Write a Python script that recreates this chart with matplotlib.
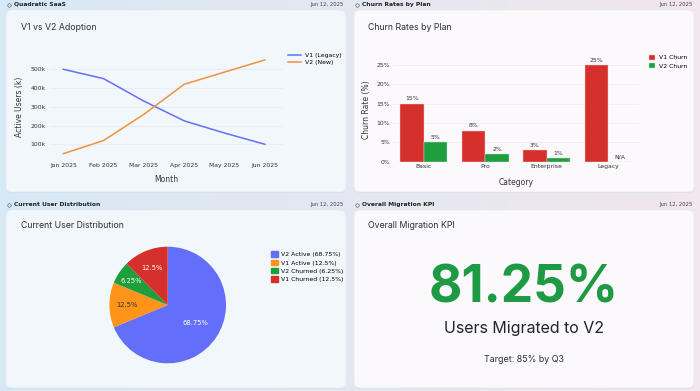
import numpy as np
import matplotlib
matplotlib.use("Agg")
import matplotlib.pyplot as plt
from matplotlib.patches import FancyBboxPatch, Patch

# data
months = ["Jan 2025", "Feb 2025", "Mar 2025", "Apr 2025", "May 2025", "Jun 2025"]
v1_users = [500, 450, 330, 225, 160, 100]
v2_users = [50, 120, 260, 420, 485, 550]

plans = ["Basic", "Pro", "Enterprise", "Legacy"]
v1_churn = [15, 8, 3, 25]
v2_churn = [5, 2, 1, None]

dist_labels = ["V2 Active", "V1 Active", "V2 Churned", "V1 Churned"]
dist_values = [68.75, 12.5, 6.25, 12.5]

kpi_value = "81.25%"
kpi_label = "Users Migrated to V2"
kpi_target = "Target: 85% by Q3"
report_date = "Jun 12, 2025"

W, H = 700, 391
fig = plt.figure(figsize=(W / 100, H / 100), dpi=100)

# background axes in pixel coords (y down)
bg = fig.add_axes([0, 0, 1, 1])
bg.set_xlim(0, W)
bg.set_ylim(H, 0)
bg.axis("off")
left_c = np.array([0.845, 0.912, 0.965])
right_c = np.array([0.945, 0.905, 0.925])
t = np.linspace(0, 1, 200)[None, :, None]
grad = left_c * (1 - t) + right_c * t
grad = np.repeat(grad, 2, axis=0)
bg.imshow(grad, extent=[0, W, H, 0], aspect="auto", zorder=0)


def px_axes(x0, y0, x1, y1):
    return fig.add_axes([x0 / W, 1 - y1 / H, (x1 - x0) / W, (y1 - y0) / H])


cards = [(6, 10, 346, 192, "#f2f7fc"), (354, 10, 694, 192, "#fbf9fb"),
         (6, 210, 346, 388, "#f2f7fc"), (354, 210, 694, 388, "#fbf9fb")]
for x0, y0, x1, y1, col in cards:
    bg.add_patch(FancyBboxPatch((x0, y0 + 1), x1 - x0, y1 - y0, boxstyle="round,pad=0,rounding_size=6",
                                fc="#000000", ec="none", alpha=0.04, zorder=1))
    bg.add_patch(FancyBboxPatch((x0, y0), x1 - x0, y1 - y0, boxstyle="round,pad=0,rounding_size=6",
                                fc=col, ec="#e6eaf0", lw=0.5, zorder=2))

headers = [(14, 4.5, "Quadratic SaaS", 344), (362, 4.5, "Churn Rates by Plan", 693),
           (14, 204.5, "Current User Distribution", 344), (362, 204.5, "Overall Migration KPI", 693)]
for x, y, txt, xr in headers:
    bg.plot(x - 5, y, marker="D", ms=2.2, mfc="none", mec="#777777", mew=0.5, zorder=3)
    bg.text(x, y, txt, fontsize=4.3, fontweight="bold", color="#222222", va="center", ha="left",
            family="DejaVu Sans", zorder=3)
    bg.text(xr, y, report_date, fontsize=3.8, color="#444444", va="center", ha="right", zorder=3)

title_kw = dict(fontsize=6.3, color="#2a2f3a", va="center", ha="left", family="Inter", zorder=3)
bg.text(21, 28, "V1 vs V2 Adoption", **title_kw)
bg.text(368, 28, "Churn Rates by Plan", **title_kw)
bg.text(21, 225.5, "Current User Distribution", **title_kw)
bg.text(368, 225.5, "Overall Migration KPI", **title_kw)

tick_col = "#333333"
grid_col = "#e6ebf1"

# line chart
ax1 = px_axes(50, 55.2, 283, 159.3)
ax1.patch.set_alpha(0)
x = np.arange(len(months))
ax1.plot(x, v1_users, color="#636EFA", lw=1.1, label="V1 (Legacy)")
ax1.plot(x, v2_users, color="#F0923E", lw=1.1, label="V2 (New)")
ax1.set_xlim(-0.33, 5.45)
ax1.set_ylim(20, 575)
ax1.set_xticks(x)
ax1.set_xticklabels(months)
ax1.set_yticks([100, 200, 300, 400, 500])
ax1.set_yticklabels([f"{v}k" for v in [100, 200, 300, 400, 500]])
ax1.grid(axis="y", color=grid_col, lw=0.5)
ax1.tick_params(length=0, labelsize=4.4, colors=tick_col, pad=3)
for s in ax1.spines.values():
    s.set_visible(False)
ax1.set_xlabel("Month", fontsize=5.5, color=tick_col, labelpad=5)
ax1.set_ylabel("Active Users (k)", fontsize=5.5, color=tick_col, labelpad=5)
ax1.legend(loc="upper left", bbox_to_anchor=(1.01, 1.05), frameon=False, fontsize=4.4,
           handlelength=2.2, handletextpad=0.6, labelspacing=0.4, borderaxespad=0)

# bar chart
ax2 = px_axes(393, 57.3, 639, 161.7)
ax2.patch.set_alpha(0)
xb = np.arange(len(plans))
bw = 0.385
v2_vals = [v if v is not None else 0 for v in v2_churn]
ax2.bar(xb - bw / 2, v1_churn, bw, color="#D5302B", edgecolor="#f5d0cf", lw=0.3, label="V1 Churn")
ax2.bar(xb + bw / 2, v2_vals, bw, color="#1E9E3C", edgecolor="#cfe9d4", lw=0.3, label="V2 Churn")
for xi, v in zip(xb, v1_churn):
    ax2.text(xi - bw / 2, v + 0.6, f"{v}%", ha="center", va="bottom", fontsize=4.4, color="#333333")
for xi, v in zip(xb, v2_churn):
    lab = f"{v}%" if v is not None else "N/A"
    ax2.text(xi + bw / 2, (v or 0) + 0.6, lab, ha="center", va="bottom", fontsize=4.4, color="#333333")
ax2.set_xlim(-0.5, 3.5)
ax2.set_ylim(0, 27)
ax2.set_xticks(xb)
ax2.set_xticklabels(plans)
ax2.set_yticks([0, 5, 10, 15, 20, 25])
ax2.set_yticklabels([f"{v}%" for v in [0, 5, 10, 15, 20, 25]])
ax2.grid(axis="y", color=grid_col, lw=0.5)
ax2.set_axisbelow(True)
ax2.tick_params(length=0, labelsize=4.4, colors=tick_col, pad=2)
for s in ax2.spines.values():
    s.set_visible(False)
ax2.axhline(0, color="#888888", lw=0.6)
ax2.set_xlabel("Category", fontsize=5.5, color=tick_col, labelpad=6)
ax2.set_ylabel("Churn Rate (%)", fontsize=5.5, color=tick_col, labelpad=4)
ax2.legend(loc="upper left", bbox_to_anchor=(1.03, 1.05), frameon=False, fontsize=4.4,
           handlelength=1.0, handleheight=1.0, handletextpad=0.6, labelspacing=0.4, borderaxespad=0)

# pie chart
ax3 = px_axes(109.4, 246.7, 226, 363.3)
pie_colors = ["#636EFA", "#FF941A", "#1E9E3C", "#D5302B"]
wedges, _ = ax3.pie(dist_values, colors=pie_colors, startangle=90, counterclock=False, radius=1)
ax3.set_xlim(-1, 1)
ax3.set_ylim(-1, 1)
label_r = [0.57, 0.69, 0.75, 0.69]
txt_cols = ["white", "#333333", "white", "white"]
for w, v, r, c in zip(wedges, dist_values, label_r, txt_cols):
    ang = np.deg2rad((w.theta1 + w.theta2) / 2)
    ax3.text(r * np.cos(ang), r * np.sin(ang), f"{v:g}%", ha="center", va="center", fontsize=4.9, color=c)
handles = [Patch(color=c, label=f"{l} ({v:g}%)") for l, v, c in zip(dist_labels, dist_values, pie_colors)]
fig.legend(handles=handles, loc="upper left", bbox_to_anchor=(269 / W, 1 - 249 / H), frameon=False,
           fontsize=4.4, handlelength=1.0, handleheight=1.0, handletextpad=0.6, labelspacing=0.4,
           borderaxespad=0)

# KPI
bg.text(524, 289, kpi_value, fontsize=37, fontweight="bold", color="#1E9A44", ha="center", va="center",
        family="Inter", zorder=3)
bg.text(524, 328.5, kpi_label, fontsize=11.5, color="#1f2430", ha="center", va="center", family="Inter", zorder=3)
bg.text(524, 359.5, kpi_target, fontsize=6.4, color="#2a2f3a", ha="center", va="center", family="Inter", zorder=3)

fig.savefig("out.png", dpi=100)
